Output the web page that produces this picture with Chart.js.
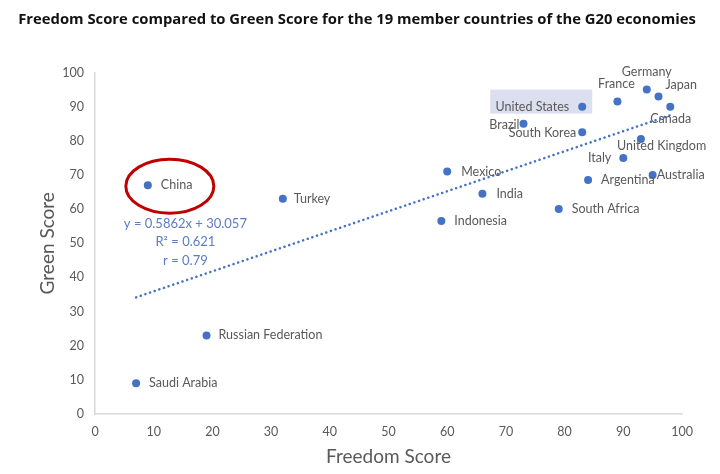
<!DOCTYPE html>
<html lang="en">

<head>
    <meta charset="UTF-8">
    <title>Freedom Score vs Green Score - G20</title>
    <script src="https://cdn.jsdelivr.net/npm/chart.js"></script>
    <style>
        body {
            margin: 0;
            background-color: #fff;
        }

        .wrap {
            width: 720px;
            height: 474px;
        }
    </style>
</head>

<body>
    <div class="wrap">
        <canvas id="chart" width="720" height="474"></canvas>
    </div>

    <script>
        const chartTitle = "Freedom Score compared to Green Score for the 19 member countries of the G20 economies";
        const countries = ["China", "Turkey", "Russian Federation", "Saudi Arabia", "Mexico", "India",
            "Indonesia", "South Africa", "Argentina", "Italy", "Australia", "United Kingdom", "Canada",
            "Japan", "Germany", "France", "United States", "Brazil", "South Korea"];
        const freedomScores = [9, 32, 19, 7, 60, 66, 59, 79, 84, 90, 95, 93, 98, 96, 94, 89, 83, 73, 83];
        const greenScores = [67, 63, 23, 9, 71, 64.5, 56.5, 60, 68.5, 75, 70, 80.5, 90, 93, 95, 91.5, 90, 85, 82.5];

        // trendline end points (Excel linear fit)
        const trendX = [7, 98];
        const trendY = [34.16, 87.5];
        const trendText = ["y = 0.5862x + 30.057", "R² = 0.621", "r = 0.79"];

        const axisTicks = [0, 10, 20, 30, 40, 50, 60, 70, 80, 90, 100];

        // where each country label sits relative to its point (px)
        const labelPlace = {
            "China": ["left", 13, 0],
            "Turkey": ["left", 11, 0],
            "Russian Federation": ["left", 12, 0],
            "Saudi Arabia": ["left", 13, 0],
            "Mexico": ["left", 14, 0],
            "India": ["left", 14, 0],
            "Indonesia": ["left", 13, 0],
            "South Africa": ["left", 13, 0],
            "Argentina": ["left", 13, 0],
            "Italy": ["right", -12, 0],
            "Australia": ["left", 4, 0],
            "United Kingdom": ["left", -24, 7],
            "Canada": ["left", -20, 12],
            "Japan": ["left", 7, -11],
            "Germany": ["center", 0, -18],
            "France": ["center", -1, -18],
            "United States": ["right", -13, 0],
            "Brazil": ["right", -4, 1],
            "South Korea": ["right", -6, 1]
        };

        const pointData = freedomScores.map((x, i) => ({ x: x, y: greenScores[i] }));
        const trendData = trendX.map((x, i) => ({ x: x, y: trendY[i] }));

        const labelPlugin = {
            id: "countryLabels",
            beforeDatasetsDraw(chart) {
                const ctx = chart.ctx;
                ctx.save();
                // title, centred on the whole picture rather than the plot
                ctx.font = "bold 14.8px 'Open Sans'";
                ctx.fillStyle = "#111";
                ctx.textAlign = "center";
                ctx.textBaseline = "middle";
                ctx.fillText(chartTitle, 357, 20);

                // highlighted box behind "United States"
                const meta = chart.getDatasetMeta(1);
                const p = meta.data[countries.indexOf("United States")];
                ctx.fillStyle = "#DCDFF0";
                ctx.fillRect(p.x - 92, p.y - 17, 102, 24);
                ctx.restore();
            },
            afterDatasetsDraw(chart) {
                const ctx = chart.ctx;
                const meta = chart.getDatasetMeta(1);
                ctx.save();
                ctx.font = "12.5px Lato";
                ctx.fillStyle = "#595959";
                ctx.textBaseline = "middle";
                meta.data.forEach((pt, i) => {
                    const name = countries[i];
                    const pl = labelPlace[name] || ["left", 12, 0];
                    ctx.textAlign = pl[0];
                    ctx.fillText(name, pt.x + pl[1], pt.y + pl[2]);
                });

                // equation text
                const xs = chart.scales.x, ys = chart.scales.y;
                ctx.font = "13px Lato";
                ctx.fillStyle = "#5B7CC4";
                ctx.textAlign = "center";
                const eqY = [55.7, 50.3, 45];
                trendText.forEach((t, i) => {
                    ctx.fillText(t, xs.getPixelForValue(15.4), ys.getPixelForValue(eqY[i]));
                });

                // red ring round China
                const c = meta.data[countries.indexOf("China")];
                ctx.strokeStyle = "#C00000";
                ctx.lineWidth = 3;
                ctx.beginPath();
                ctx.ellipse(c.x + 22, c.y + 1, 44, 27, 0, 0, Math.PI * 2);
                ctx.stroke();
                ctx.restore();
            }
        };

        const ctx = document.getElementById("chart").getContext("2d");
        const chart = new Chart(ctx, {
            type: "scatter",
            data: {
                datasets: [
                    {
                        label: "Linear trend",
                        data: trendData,
                        showLine: true,
                        pointRadius: 0,
                        borderColor: "#4472C4",
                        borderWidth: 2.5,
                        borderDash: [0.1, 4.8],
                        borderCapStyle: "round",
                        fill: false
                    },
                    {
                        label: "G20 countries",
                        data: pointData,
                        pointRadius: 4,
                        pointHoverRadius: 4,
                        backgroundColor: "#4472C4",
                        borderWidth: 0
                    }
                ]
            },
            options: {
                responsive: false,
                animation: false,
                layout: {
                    padding: { left: 0, right: 38, top: 72.5, bottom: 0 }
                },
                plugins: {
                    legend: { display: false },
                    tooltip: { enabled: false },
                    title: { display: false }
                },
                scales: {
                    x: {
                        type: "linear",
                        min: 0,
                        max: 100,
                        afterBuildTicks: (s) => { s.ticks = axisTicks.map(v => ({ value: v })); },
                        afterFit: (s) => { s.height = 60; },
                        grid: { display: false, drawTicks: false },
                        border: { display: true, color: "#D9D9D9", width: 1.5 },
                        ticks: {
                            color: "#595959",
                            font: { family: "Lato", size: 12.5 },
                            padding: 10,
                            maxRotation: 0
                        },
                        title: {
                            display: true,
                            text: "Freedom Score",
                            color: "#595959",
                            font: { family: "Lato", size: 19 },
                            padding: { top: 0, bottom: 6 }
                        }
                    },
                    y: {
                        type: "linear",
                        min: 0,
                        max: 100,
                        afterBuildTicks: (s) => { s.ticks = axisTicks.map(v => ({ value: v })); },
                        afterFit: (s) => { s.width = 95; },
                        grid: { display: false, drawTicks: false },
                        border: { display: true, color: "#D9D9D9", width: 1.5 },
                        ticks: {
                            color: "#595959",
                            font: { family: "Lato", size: 12.5 },
                            padding: 11
                        },
                        title: {
                            display: true,
                            text: "Green Score",
                            color: "#595959",
                            font: { family: "Lato", size: 19 },
                            padding: { top: 36, bottom: 0 }
                        }
                    }
                }
            },
            plugins: [labelPlugin]
        });
    </script>
</body>

</html>
